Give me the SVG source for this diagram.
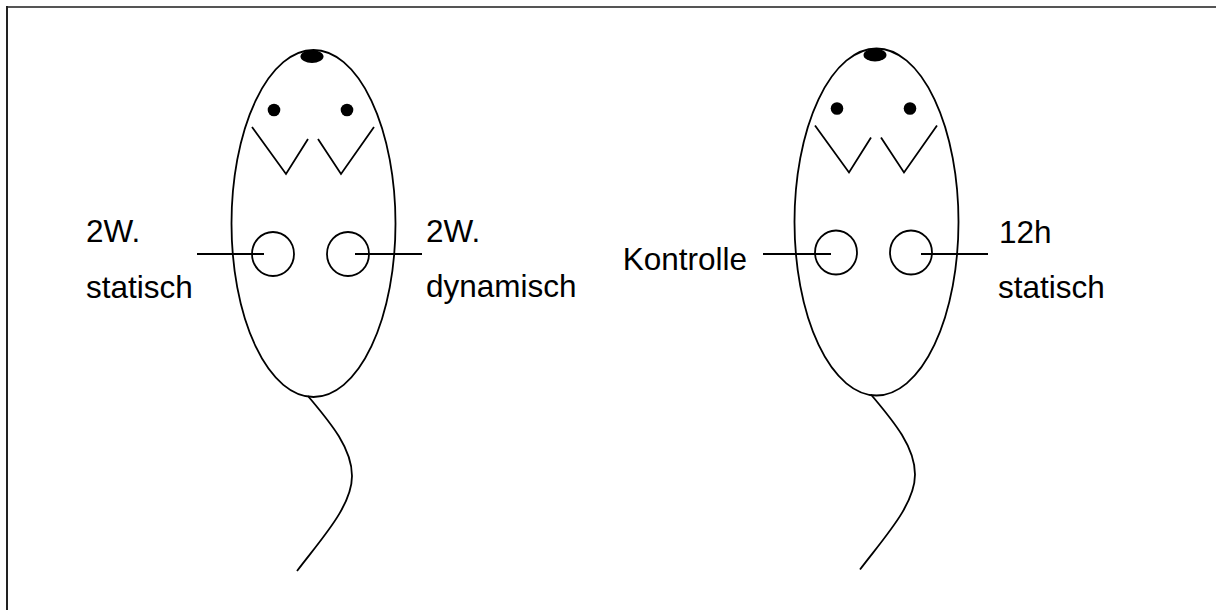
<svg xmlns="http://www.w3.org/2000/svg" width="1216" height="610" viewBox="0 0 1216 610">
  <style>
    .outline { fill: none; stroke: #000; stroke-width: 1.8; }
    .solid { fill: #000; stroke: none; }
    .label { font-family: "Liberation Sans", Arial, sans-serif; font-size: 31.5px; fill: #000; }
  </style>
  <defs>
    <!-- one cell body with spot, eyes, V marks, two probes and tail -->
    <g id="cell">
      <ellipse class="outline" cx="313.5" cy="223.5" rx="82" ry="173.5"/>
      <ellipse class="solid" cx="312" cy="56.5" rx="11.5" ry="6.5"/>
      <circle class="solid" cx="274" cy="110" r="6.3"/>
      <circle class="solid" cx="347" cy="110" r="6.3"/>
      <polyline class="outline" points="252,127 286,174 308,139"/>
      <polyline class="outline" points="318,139 341,174 374,127"/>
      <ellipse class="outline" cx="273" cy="254" rx="21" ry="22"/>
      <ellipse class="outline" cx="348" cy="254" rx="21" ry="22"/>
      <path class="outline" d="M308,396 C328,420 352,447 352,476 C352,506 322,538 297,571"/>
    </g>
  </defs>

  <rect x="0" y="0" width="1216" height="610" fill="#fff"/>

  <!-- frame -->
  <line x1="6" y1="7" x2="1216" y2="7" stroke="#555" stroke-width="2"/>
  <line x1="7" y1="6" x2="7" y2="610" stroke="#222" stroke-width="2"/>

  <g id="cell-left">
    <use href="#cell"/>
  </g>
  <g id="cell-right">
    <use href="#cell" transform="translate(563,-1.5)"/>
  </g>

  <g id="connectors">
    <line class="outline" x1="197" y1="254" x2="264" y2="254"/>
    <line class="outline" x1="355" y1="254" x2="422" y2="254"/>
    <line class="outline" x1="763" y1="254" x2="831" y2="254"/>
    <line class="outline" x1="921" y1="254" x2="988" y2="254"/>
  </g>

  <g id="labels">
    <text class="label" x="86" y="242">2W.</text>
    <text class="label" x="86" y="298">statisch</text>
    <text class="label" x="426" y="242">2W.</text>
    <text class="label" x="426" y="297">dynamisch</text>
    <text class="label" x="747" y="270" text-anchor="end">Kontrolle</text>
    <text class="label" x="999" y="243">12h</text>
    <text class="label" x="998" y="298">statisch</text>
  </g>
</svg>
